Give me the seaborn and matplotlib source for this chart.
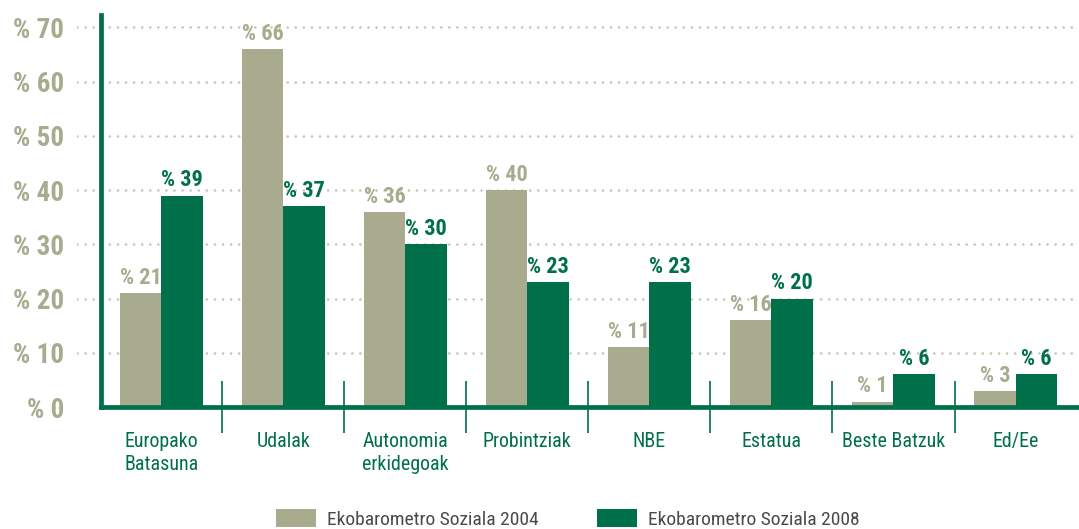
import matplotlib
matplotlib.use("Agg")
import matplotlib.pyplot as plt
from matplotlib.patches import Patch
from matplotlib.ticker import FixedLocator
import pandas as pd
import seaborn as sns

# Survey results: share of answers per administration level
categories = ["Europako\nBatasuna", "Udalak", "Autonomia\nerkidegoak", "Probintziak",
              "NBE", "Estatua", "Beste Batzuk", "Ed/Ee"]
values_2004 = [21, 66, 36, 40, 11, 16, 1, 3]
values_2008 = [39, 37, 30, 23, 23, 20, 6, 6]
series = ["Ekobarometro Soziala 2004", "Ekobarometro Soziala 2008"]
y_ticks = [0, 10, 20, 30, 40, 50, 60, 70]
y_tick_labels = ["% 0", "% 10", "% 20", "% 30", "% 40", "% 50", "% 60", "% 70"]

OLIVE = "#a8ab8e"
GREEN = "#00704a"
GRID = "#c9cab6"

sns.set_style("white")
plt.rcParams["font.family"] = ["Roboto Condensed", "Archivo Narrow", "DejaVu Sans"]

df = pd.DataFrame({
    "category": categories * 2,
    "value": values_2004 + values_2008,
    "series": [series[0]] * len(categories) + [series[1]] * len(categories),
})

fig = plt.figure(figsize=(10.79, 5.29), dpi=100)
ax = fig.add_axes([77 / 1079, 122 / 529, 1 - 77 / 1079, 392 / 529])

sns.barplot(data=df, x="category", y="value", hue="series", order=categories,
            hue_order=series, palette=[OLIVE, GREEN], saturation=1, width=0.68,
            gap=0, legend=False, ax=ax, zorder=2, linewidth=0)

# value labels above each bar
for container, vals, col in zip(ax.containers, [values_2004, values_2008], [OLIVE, GREEN]):
    ax.bar_label(container, labels=[f"% {v}" for v in vals], padding=3,
                 color=col, fontsize=16, fontweight="bold")

ax.set_xlim(-0.69, 7.52)
ax.set_ylim(0, 72.3)
ax.set_xlabel("")
ax.set_ylabel("")

# axes frame: thick green left and bottom lines
for side in ["top", "right"]:
    ax.spines[side].set_visible(False)
ax.spines["left"].set_position(("data", -0.49))
ax.spines["bottom"].set_bounds(-0.49, 7.52)
for side in ["left", "bottom"]:
    ax.spines[side].set_color(GREEN)
    ax.spines[side].set_linewidth(3.4)
    ax.spines[side].set_zorder(3)

# y axis ticks and dotted grid (grid runs out past the left spine)
ax.set_yticks(y_ticks)
ax.set_yticklabels(y_tick_labels, fontsize=19.5, fontweight="bold", color=OLIVE)
ax.tick_params(axis="y", length=0, pad=27)
ax.yaxis.grid(True, color=GRID, linewidth=2.0, linestyle=(0, (0.01, 2.9)),
              dash_capstyle="round")
ax.get_ygridlines()[0].set_visible(False)
ax.set_axisbelow(True)

# category labels and separators between groups
ax.tick_params(axis="x", which="major", length=0, pad=18, labelsize=14.4,
               labelcolor=GREEN)
for lbl in ax.get_xticklabels():
    lbl.set_linespacing(1.3)
ax.xaxis.set_minor_locator(FixedLocator([i + 0.5 for i in range(len(categories) - 1)]))
ax.tick_params(axis="x", which="minor", direction="inout", length=38, width=1.2,
               color=GREEN, bottom=True)

handles = [Patch(facecolor=OLIVE, edgecolor="none"), Patch(facecolor=GREEN, edgecolor="none")]
fig.legend(handles, series, loc="center", bbox_to_anchor=(568 / 1079, 1 - 519 / 529),
           ncol=2, frameon=False, fontsize=14, handlelength=2.06, handleheight=1.0,
           handletextpad=0.57, columnspacing=3.0, labelcolor="#4a4a4a")

fig.savefig("out.png", dpi=100)
